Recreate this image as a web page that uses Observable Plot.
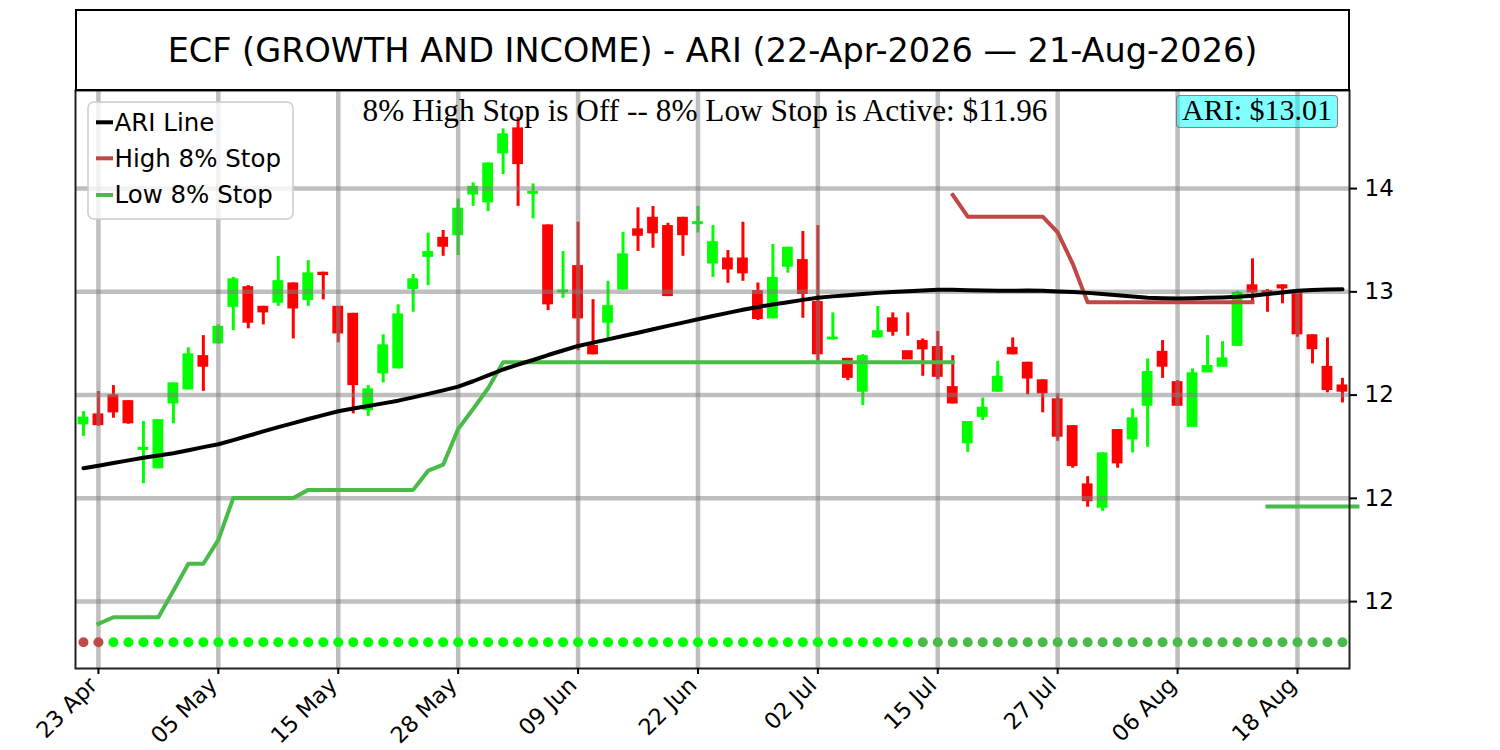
<!DOCTYPE html>
<html><head><meta charset="utf-8">
<script src="https://cdn.jsdelivr.net/npm/d3@7"></script>
<script src="https://cdn.jsdelivr.net/npm/@observablehq/plot@0.6"></script>
<style>
body{margin:0;background:#fff;}
#wrap{position:relative;width:1500px;height:750px;overflow:hidden;font-family:"DejaVu Sans";background:#fff;}
#title{position:absolute;left:75px;top:9px;width:1275px;height:82px;box-sizing:border-box;border:2px solid #000;background:#fff;display:flex;align-items:center;justify-content:center;font-size:33.5px;color:#000;}
#ari{position:absolute;left:1176px;top:95px;width:162px;height:33px;box-sizing:border-box;border:1.5px solid rgba(170,60,60,0.65);border-radius:4px;background:rgba(0,255,255,0.5);font-family:"Liberation Serif";font-size:30px;line-height:27px;text-align:center;color:#000;white-space:nowrap;}
#legend{position:absolute;left:0;top:0;}
</style></head><body>
<div id="wrap"><div id="chart"></div><div id="title"></div><svg id="legend" width="400" height="260"></svg><div id="ari"></div></div>
<script>
const titleText = "ECF (GROWTH AND INCOME) - ARI (22-Apr-2026 — 21-Aug-2026)";
const subtitleText = "8% High Stop is Off -- 8% Low Stop is Active: $11.96";
const ariLabel = "ARI: $13.01";
const legendLabels = ["ARI Line", "High 8% Stop", "Low 8% Stop"];

const xTicks = [1, 9, 17, 25, 33, 41, 49, 57, 65, 73, 81];
const xTickLabels = ["23 Apr", "05 May", "15 May", "28 May", "09 Jun", "22 Jun", "02 Jul", "15 Jul", "27 Jul", "06 Aug", "18 Aug"];
const yTicks = [11.5, 12, 12.5, 13, 13.5];
const yTickLabels = ["12", "12", "12", "13", "14"];

const opens = [12.356,12.409,12.501,12.473,12.232,12.143,12.457,12.525,12.691,12.748,12.925,13.025,12.930,12.945,13.043,12.958,13.095,12.930,12.896,12.425,12.603,12.627,13.011,13.167,13.264,13.272,13.469,13.431,13.668,13.794,13.472,13.324,12.995,13.127,12.740,12.848,13.009,13.305,13.361,13.321,13.361,13.325,13.135,13.164,13.164,13.006,12.869,13.119,13.156,12.953,12.767,12.678,12.514,12.777,12.874,12.715,12.764,12.735,12.541,12.264,12.392,12.514,12.731,12.659,12.574,12.482,12.352,12.070,11.952,12.333,12.283,12.446,12.712,12.565,12.344,12.608,12.635,12.736,13.034,13.006,13.034,13.006,12.792,12.639,12.549];
const highs = [12.420,12.517,12.546,12.473,12.372,12.381,12.559,12.729,12.788,12.840,13.070,13.030,12.930,13.171,13.043,13.151,13.095,12.930,12.896,12.546,12.792,12.937,13.084,13.284,13.297,13.450,13.528,13.624,13.789,13.845,13.523,13.324,13.195,13.337,12.962,13.050,13.288,13.407,13.413,13.332,13.361,13.413,13.321,13.200,13.337,13.043,13.229,13.216,13.292,13.321,12.898,12.678,12.696,12.929,12.898,12.898,12.772,12.808,12.691,12.372,12.486,12.664,12.777,12.659,12.574,12.506,12.352,12.105,12.220,12.333,12.433,12.675,12.764,12.570,12.627,12.788,12.759,13.003,13.160,13.011,13.034,13.006,12.792,12.777,12.581];
const lows = [12.300,12.349,12.388,12.359,12.071,12.143,12.361,12.525,12.518,12.748,12.812,12.821,12.840,12.930,12.772,12.930,12.961,12.753,12.409,12.397,12.559,12.627,12.901,13.030,13.172,13.176,13.414,13.389,13.568,13.414,13.353,12.909,12.969,12.715,12.695,12.772,13.009,13.196,13.211,12.977,13.172,13.285,13.070,13.041,13.051,12.861,12.869,13.090,12.872,12.659,12.767,12.570,12.449,12.777,12.785,12.785,12.591,12.574,12.457,12.223,12.377,12.514,12.695,12.501,12.414,12.276,12.146,11.957,11.937,12.146,12.220,12.247,12.581,12.446,12.344,12.608,12.635,12.736,12.946,12.901,12.942,12.780,12.651,12.511,12.462];
const closes = [12.393,12.352,12.414,12.361,12.247,12.381,12.559,12.700,12.635,12.833,13.063,12.848,12.898,13.054,12.917,13.092,13.079,12.796,12.546,12.530,12.743,12.893,13.063,13.195,13.216,13.405,13.511,13.624,13.765,13.616,13.487,12.937,13.009,12.869,12.695,12.933,13.184,13.269,13.281,12.977,13.272,13.340,13.243,13.106,13.087,12.866,13.070,13.216,12.987,12.695,12.781,12.581,12.691,12.812,12.804,12.670,12.719,12.586,12.457,12.372,12.441,12.591,12.695,12.578,12.506,12.296,12.154,11.984,12.220,12.167,12.390,12.614,12.635,12.446,12.608,12.643,12.680,12.998,12.995,12.982,13.014,12.792,12.720,12.522,12.514];

const ariLine = [12.146,12.158,12.171,12.184,12.197,12.207,12.218,12.233,12.248,12.262,12.282,12.303,12.324,12.345,12.364,12.384,12.403,12.422,12.435,12.447,12.460,12.473,12.489,12.506,12.523,12.541,12.567,12.595,12.624,12.648,12.670,12.694,12.716,12.738,12.754,12.770,12.786,12.802,12.819,12.835,12.851,12.867,12.883,12.898,12.913,12.927,12.939,12.950,12.961,12.971,12.978,12.984,12.990,12.995,12.999,13.003,13.007,13.010,13.010,13.008,13.006,13.005,13.005,13.006,13.005,13.002,12.999,12.995,12.989,12.983,12.977,12.971,12.969,12.968,12.969,12.971,12.973,12.976,12.981,12.989,12.997,13.005,13.009,13.011,13.012];

const highStop = [null,null,null,null,null,null,null,null,null,null,null,null,null,null,null,null,null,null,null,null,null,null,null,null,null,null,null,null,null,null,null,null,null,null,null,null,null,null,null,null,null,null,null,null,null,null,null,null,null,null,null,null,null,null,null,null,null,null,13.469,13.364,13.364,13.364,13.364,13.364,13.364,13.288,13.137,12.949,12.949,12.949,12.949,12.949,12.949,12.949,12.949,12.949,12.949,12.949,12.949,null,null,null,null,null,null];
const lowStop = [null,11.392,11.424,11.424,11.424,11.424,11.553,11.683,11.683,11.799,12.002,12.002,12.002,12.002,12.002,12.041,12.041,12.041,12.041,12.041,12.041,12.041,12.041,12.134,12.163,12.336,12.433,12.533,12.659,12.659,12.659,12.659,12.659,12.659,12.659,12.659,12.659,12.659,12.659,12.659,12.659,12.659,12.659,12.659,12.659,12.659,12.659,12.659,12.659,12.659,12.659,12.659,12.659,12.659,12.659,12.659,12.659,12.659,12.659,null,null,null,null,null,null,null,null,null,null,null,null,null,null,null,null,null,null,null,null,11.96,11.96,11.96,11.96,11.96,11.96,11.96];

// signal dots: H = high-stop state, B = fresh low-stop state, D = low-stop state
const signals = "HHBBBBBBBBBBBBBBBBBBBBBBBBBBBBBBBBBBBBBBBBBBBBBBBBBBBBBBDDDDDDDDDDDDDDDDDDDDDDDDDDDDD".split("");
const dotLevel = 11.303;

const RED = "#ff0000", GREEN = "#00ff00";
const HS = "#bf4846", LS = "#48bb48";
const sigColor = {H: "#c04a48", B: "#00ff00", D: "#4abb4a"};

const days = opens.map((o, i) => ({i, o, h: highs[i], l: lows[i], c: closes[i], up: closes[i] >= o}));
const ariRows = ariLine.map((v, i) => ({i, v}));
const hsRows = highStop.map((v, i) => ({i, v}));
const lsRows = lowStop.map((v, i) => ({i, v}));
const sigRows = signals.map((s, i) => ({i, s, v: dotLevel}));

const chart = Plot.plot({
  width: 1500, height: 750,
  marginLeft: 75, marginRight: 151, marginTop: 90, marginBottom: 82,
  style: {fontFamily: "DejaVu Sans", background: "white", color: "black"},
  x: {domain: [-0.53, 84.47]},
  y: {domain: [11.176, 13.975]},
  marks: [
    Plot.ruleX(days, {x: "i", y1: "l", y2: "h", stroke: d => d.up ? GREEN : RED, strokeWidth: 3}),
    Plot.rect(days, {x1: d => d.i - 0.36, x2: d => d.i + 0.36, y1: "o", y2: "c", fill: d => d.up ? GREEN : RED}),
    Plot.gridX(xTicks, {stroke: "#808080", strokeOpacity: 0.5, strokeWidth: 4.5}),
    Plot.gridY(yTicks, {stroke: "#808080", strokeOpacity: 0.5, strokeWidth: 4.5}),
    Plot.line(lsRows, {x: "i", y: "v", stroke: LS, strokeWidth: 4, strokeLinecap: "square", strokeLinejoin: "round"}),
    Plot.line(hsRows, {x: "i", y: "v", stroke: HS, strokeWidth: 4, strokeLinecap: "square", strokeLinejoin: "round"}),
    Plot.line(ariRows, {x: "i", y: "v", stroke: "black", strokeWidth: 4, curve: "linear"}),
    Plot.dot(sigRows, {x: "i", y: "v", r: 5, fill: d => sigColor[d.s], stroke: "none"}),
    Plot.frame({stroke: "#222", strokeWidth: 2}),
    Plot.axisX({ticks: xTicks, tickFormat: () => "", tickSize: 6, strokeWidth: 2, label: null}),
    Plot.axisX({ticks: xTicks, tickFormat: d => xTickLabels[xTicks.indexOf(d)], tickRotate: -45, fontSize: 22.5, tickSize: 0, tickPadding: 13, dx: -5, label: null}),
    Plot.axisY({anchor: "right", ticks: yTicks, tickFormat: d => yTickLabels[yTicks.indexOf(d)], tickSize: 7, tickPadding: 8, fontSize: 23, strokeWidth: 2, label: null}),
    Plot.text([subtitleText], {frameAnchor: "top", dx: -7.5, dy: 30, lineAnchor: "bottom", fontFamily: "Liberation Serif", fontSize: 31.3, fill: "black"})
  ]
});
document.getElementById("chart").appendChild(chart);
document.getElementById("title").textContent = titleText;
document.getElementById("ari").textContent = ariLabel;

// legend
const lg = d3.select("#legend");
lg.append("rect").attr("x", 88).attr("y", 102).attr("width", 205).attr("height", 117).attr("rx", 6)
  .attr("fill", "white").attr("fill-opacity", 0.8).attr("stroke", "#cccccc").attr("stroke-width", 1.5);
const lgColors = ["black", HS, LS];
const lgLineY = [122.3, 158.3, 195];
const lgBase = [131, 166.5, 203.3];
legendLabels.forEach((t, k) => {
  lg.append("line").attr("x1", 96).attr("x2", 113).attr("y1", lgLineY[k]).attr("y2", lgLineY[k])
    .attr("stroke", lgColors[k]).attr("stroke-width", 4);
  lg.append("text").attr("x", 114.5).attr("y", lgBase[k]).attr("font-family", "DejaVu Sans")
    .attr("font-size", 24.5).attr("fill", "black").text(t);
});
</script>
</body></html>
